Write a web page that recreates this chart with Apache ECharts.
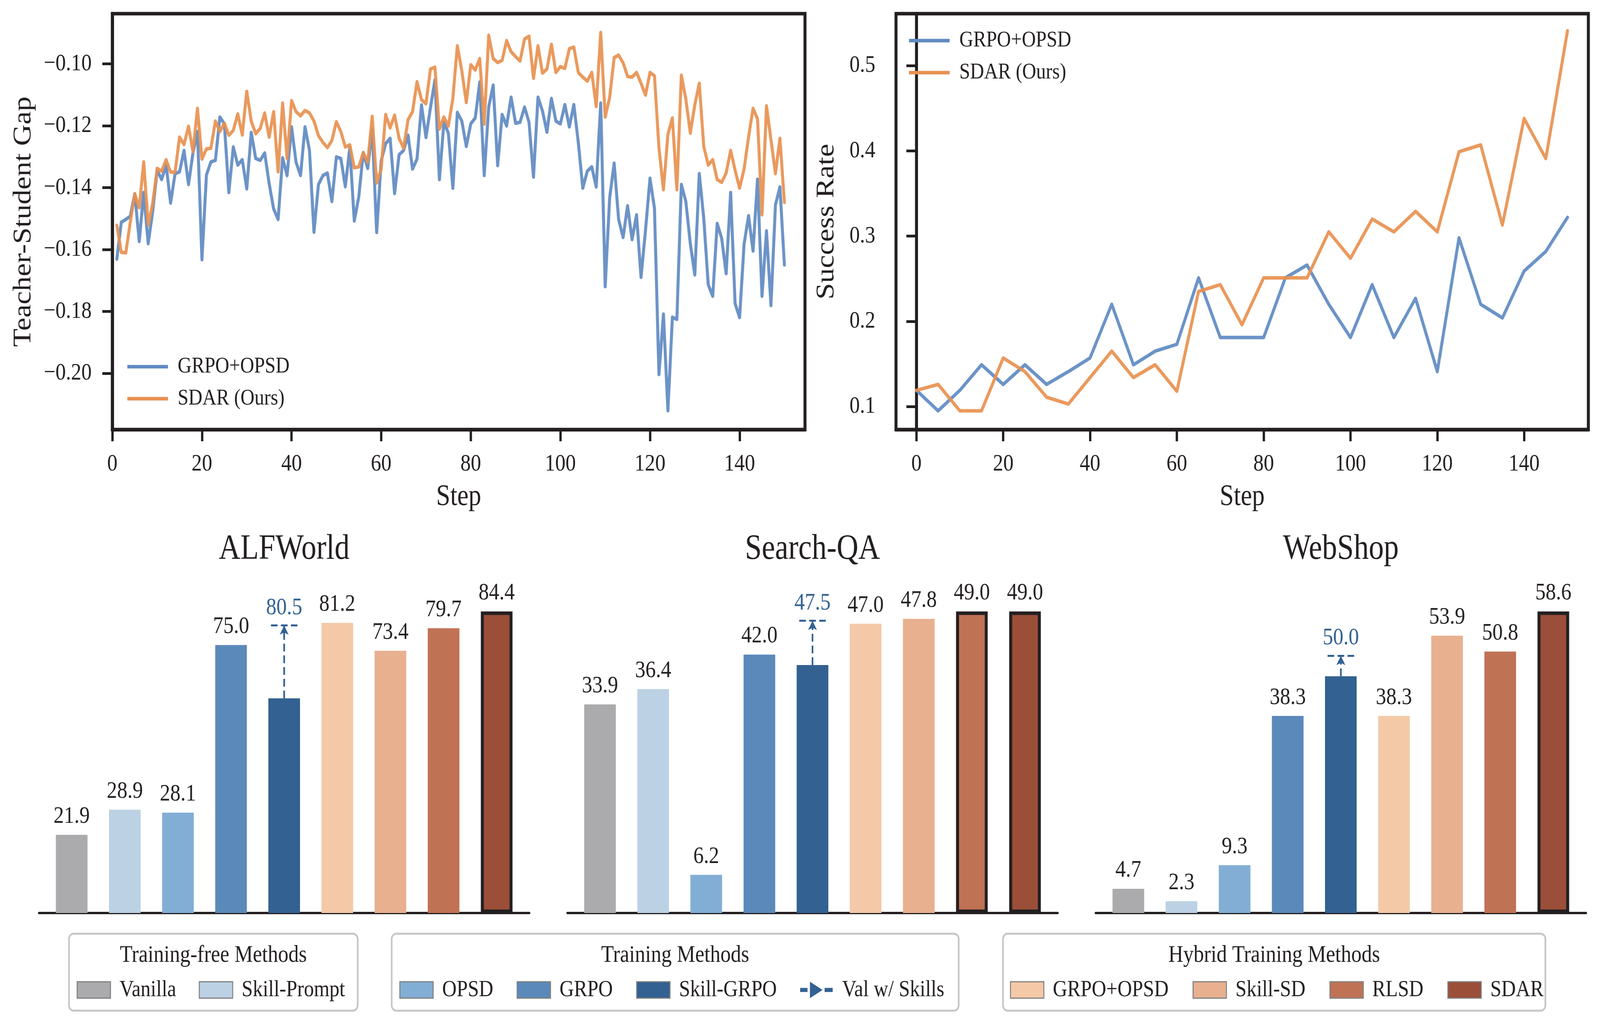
<!DOCTYPE html>
<html>
<head lang="en">
    <meta charset="UTF-8">
    <title>SDAR | Gap, success rate and benchmark results</title>
    <script src="https://cdn.jsdelivr.net/npm/echarts@6/dist/echarts.min.js"></script>
    <style>
        html, body { margin: 0; padding: 0; background: #fff; overflow: hidden; width: 100%; height: 100%; }
        #wrap { width: 4800px; height: 2635px; transform-origin: 0 0; }
        #chart { width: 4800px; height: 2635px; }
    </style>
</head>
<body>

<div id="wrap"><div id="chart"></div></div>

<script>

    // teacher-student gap, steps 1..150
    var gapBlue = [
        -0.1631,-0.1512,-0.1503,-0.1493,-0.1420,-0.1574,-0.1416,-0.1581,-0.1478,-0.1344,
        -0.1374,-0.1327,-0.1450,-0.1355,-0.1349,-0.1280,-0.1390,-0.1288,-0.1219,-0.1633,
        -0.1359,-0.1317,-0.1312,-0.1172,-0.1194,-0.1416,-0.1269,-0.1327,-0.1310,-0.1404,
        -0.1222,-0.1306,-0.1312,-0.1288,-0.1387,-0.1469,-0.1503,-0.1304,-0.1361,-0.1204,
        -0.1318,-0.1361,-0.1204,-0.1280,-0.1544,-0.1390,-0.1361,-0.1353,-0.1445,-0.1301,
        -0.1306,-0.1397,-0.1271,-0.1508,-0.1430,-0.1287,-0.1338,-0.1211,-0.1545,-0.1314,
        -0.1258,-0.1241,-0.1419,-0.1294,-0.1280,-0.1231,-0.1340,-0.1308,-0.1133,-0.1238,
        -0.1142,-0.1052,-0.1374,-0.1189,-0.1224,-0.1402,-0.1157,-0.1185,-0.1267,-0.1194,
        -0.1175,-0.1059,-0.1361,-0.1140,-0.1069,-0.1329,-0.1164,-0.1201,-0.1108,-0.1192,
        -0.1189,-0.1140,-0.1189,-0.1366,-0.1108,-0.1152,-0.1221,-0.1112,-0.1185,-0.1194,
        -0.1132,-0.1204,-0.1132,-0.1254,-0.1402,-0.1347,-0.1333,-0.1398,-0.1127,-0.1720,
        -0.1433,-0.1321,-0.1503,-0.1561,-0.1459,-0.1568,-0.1488,-0.1690,-0.1538,-0.1370,
        -0.1467,-0.2004,-0.1809,-0.2121,-0.1819,-0.1826,-0.1390,-0.1445,-0.1581,-0.1682,
        -0.1355,-0.1499,-0.1714,-0.1751,-0.1516,-0.1564,-0.1678,-0.1416,-0.1775,-0.1820,
        -0.1583,-0.1491,-0.1605,-0.1373,-0.1751,-0.1540,-0.1781,-0.1456,-0.1398,-0.1650
    ];
    var gapOrange = [
        -0.1522,-0.1609,-0.1611,-0.1512,-0.1420,-0.1465,-0.1317,-0.1521,-0.1452,-0.1338,
        -0.1347,-0.1310,-0.1350,-0.1350,-0.1237,-0.1261,-0.1202,-0.1284,-0.1144,-0.1308,
        -0.1275,-0.1273,-0.1185,-0.1219,-0.1192,-0.1231,-0.1215,-0.1162,-0.1230,-0.1089,
        -0.1185,-0.1226,-0.1209,-0.1159,-0.1237,-0.1155,-0.1349,-0.1127,-0.1306,-0.1119,
        -0.1155,-0.1168,-0.1151,-0.1159,-0.1185,-0.1232,-0.1254,-0.1271,-0.1248,-0.1187,
        -0.1219,-0.1269,-0.1262,-0.1336,-0.1333,-0.1287,-0.1318,-0.1170,-0.1385,-0.1340,
        -0.1164,-0.1207,-0.1166,-0.1241,-0.1273,-0.1181,-0.1155,-0.1058,-0.1116,-0.1129,
        -0.1017,-0.1011,-0.1211,-0.1172,-0.1201,-0.1112,-0.0942,-0.1023,-0.1125,-0.1003,
        -0.1020,-0.0983,-0.1195,-0.0908,-0.0983,-0.0996,-0.0989,-0.0925,-0.0961,-0.0977,
        -0.0991,-0.0920,-0.0911,-0.1047,-0.0942,-0.1030,-0.1017,-0.0937,-0.1028,-0.1009,
        -0.1015,-0.0951,-0.0946,-0.1028,-0.1043,-0.1056,-0.1028,-0.1138,-0.0899,-0.1172,
        -0.1109,-0.0980,-0.0972,-0.0997,-0.1041,-0.1043,-0.1028,-0.1063,-0.1101,-0.1028,
        -0.1039,-0.1271,-0.1407,-0.1228,-0.1175,-0.1407,-0.1037,-0.1114,-0.1224,-0.1133,
        -0.1063,-0.1267,-0.1327,-0.1310,-0.1374,-0.1383,-0.1353,-0.1280,-0.1344,-0.1402,
        -0.1340,-0.1237,-0.1144,-0.1178,-0.1488,-0.1136,-0.1245,-0.1355,-0.1241,-0.1448
    ];

    // success rate, every 5 steps from 0 to 150
    var rateBlue = [0.119,0.095,0.119,0.149,0.126,0.149,0.126,0.141,0.157,0.220,0.149,
        0.165,0.173,0.251,0.181,0.181,0.181,0.251,0.266,0.220,0.181,
        0.243,0.181,0.227,0.141,0.298,0.220,0.204,0.259,0.282,0.322];
    var rateOrange = [0.119,0.126,0.095,0.095,0.157,0.141,0.111,0.103,0.134,0.165,0.134,
        0.149,0.118,0.235,0.243,0.196,0.251,0.251,0.251,0.305,0.274,
        0.320,0.305,0.329,0.305,0.399,0.407,0.313,0.438,0.391,0.541];

    var gapTicks = [-0.20, -0.18, -0.16, -0.14, -0.12, -0.10];
    var rateTicks = [0.1, 0.2, 0.3, 0.4, 0.5];
    var stepTicks = [0, 20, 40, 60, 80, 100, 120, 140];

    // benchmark bars
    var methods = ['Vanilla', 'Skill-Prompt', 'OPSD', 'GRPO', 'Skill-GRPO', 'GRPO+OPSD', 'Skill-SD', 'RLSD', 'SDAR'];
    var benchmarks = ['ALFWorld', 'Search-QA', 'WebShop'];
    var alfworld = [21.9, 28.9, 28.1, 75.0, 60.1, 81.2, 73.4, 79.7, 84.4];
    var searchQA = [33.9, 36.4, 6.2, 42.0, 40.3, 47.0, 47.8, 49.0, 49.0];
    var webShop = [4.7, 2.3, 9.3, 38.3, 46.0, 38.3, 53.9, 50.8, 58.6];
    var valWithSkills = [80.5, 47.5, 50.0];

    var legendGroups = [
        ['Training-free Methods', ['Vanilla', 'Skill-Prompt']],
        ['Training Methods', ['OPSD', 'GRPO', 'Skill-GRPO', 'Val w/ Skills']],
        ['Hybrid Training Methods', ['GRPO+OPSD', 'Skill-SD', 'RLSD', 'SDAR']]
    ];

    var FONT = 'Liberation Serif';
    var INK = '#231f20';
    var BLUE = '#5f8ac2';
    var ORANGE = '#e8904f';
    var VAL = '#326192';
    var methodColors = ['#ababad', '#bcd1e3', '#82aed5', '#5b89b9', '#326192',
        '#f4c9a7', '#e8b08f', '#c07254', '#9b4f38'];
    var arrowIcon = 'path://M0,15H21V25H0Z M28,0L64,20L28,40Z M70,15H93V25H70Z';

    var panelLeft = [117, 1702, 3287];
    var panelWidth = 1471;
    var skillIdx = methods.indexOf('Skill-GRPO');

    // the figure is drawn on a 4800 x 2635 board and stretched onto the window
    var sx = window.innerWidth / 4800, sy = window.innerHeight / 2635;
    if (sx !== 1 || sy !== 1) {
        document.getElementById('wrap').style.transform = 'scale(' + sx + ',' + sy + ')';
    }

    function minus(v, digits) {
        return (v < 0 ? '\u2212' : '') + Math.abs(v).toFixed(digits);
    }

    function curveName(n) { return 'curve:' + n; }

    var grids = [
        {left: 337, top: 35, width: 2078, height: 1065, show: true, borderColor: INK, borderWidth: 9, outerBoundsMode: 'none'},
        {left: 2688, top: 35, width: 2077, height: 1065, show: true, borderColor: INK, borderWidth: 9, outerBoundsMode: 'none'}
    ];
    panelLeft.forEach(function(l){
        grids.push({left: l, top: 1450, width: panelWidth, height: 888, outerBoundsMode: 'none'});
    });

    function lineXAxis(idx, min, max){
        return {
            type: 'value', gridIndex: idx, min: min, max: max,
            axisLine: {show: true, lineStyle: {color: INK, width: 9}},
            axisTick: {show: true, inside: false, length: 30, customValues: stepTicks, lineStyle: {color: INK, width: 7}},
            axisLabel: {customValues: stepTicks, margin: 58, fontSize: 62, color: INK, fontFamily: FONT},
            splitLine: {show: false},
            name: 'Step', nameLocation: 'middle', nameGap: 135,
            nameTextStyle: {fontSize: 76, color: INK, fontFamily: FONT}
        };
    }
    function lineYAxis(idx, min, max, ticks, digits, name, gap){
        return {
            type: 'value', gridIndex: idx, min: min, max: max,
            axisLine: {show: true, lineStyle: {color: INK, width: 9}},
            axisTick: {show: true, inside: false, length: 30, customValues: ticks, lineStyle: {color: INK, width: 7}},
            axisLabel: {customValues: ticks, margin: 62, fontSize: 62, color: INK, fontFamily: FONT,
                formatter: function(v){ return minus(v, digits); }},
            splitLine: {show: false},
            name: name, nameLocation: 'middle', nameGap: gap, nameRotate: 90,
            nameTextStyle: {fontSize: 76, color: INK, fontFamily: FONT}
        };
    }

    var xAxes = [lineXAxis(0, 0, 154.6), lineXAxis(1, -4.7, 154.8)];
    var yAxes = [
        lineYAxis(0, -0.2182, -0.0838, gapTicks, 2, 'Teacher-Student Gap', 228),
        lineYAxis(1, 0.073, 0.561, rateTicks, 1, 'Success Rate', 170)
    ];

    var series = [];

    function pairs(values, stepOf){
        return values.map(function(v, i){ return [stepOf(i), v]; });
    }
    function curve(name, color, idx, data){
        return {
            name: curveName(name), type: 'line', xAxisIndex: idx, yAxisIndex: idx,
            data: data, showSymbol: false, symbol: 'none',
            itemStyle: {color: color},
            lineStyle: {color: color, width: 9, opacity: 0.92, cap: 'round', join: 'round'}
        };
    }
    series.push(curve('GRPO+OPSD', BLUE, 0, pairs(gapBlue, function(i){ return i + 1; })));
    series.push(curve('SDAR (Ours)', ORANGE, 0, pairs(gapOrange, function(i){ return i + 1; })));
    series.push(curve('GRPO+OPSD', BLUE, 1, pairs(rateBlue, function(i){ return i * 5; })));
    series.push(curve('SDAR (Ours)', ORANGE, 1, pairs(rateOrange, function(i){ return i * 5; })));

    var titles = [];
    [alfworld, searchQA, webShop].forEach(function(vals, p){
        var ax = p + 2;
        var top = Math.max.apply(null, vals);
        xAxes.push({
            type: 'value', gridIndex: ax, min: -0.615, max: 8.615,
            axisLine: {show: true, lineStyle: {color: INK, width: 6}},
            axisTick: {show: false}, axisLabel: {show: false}, splitLine: {show: false}
        });
        yAxes.push({type: 'value', gridIndex: ax, min: 0, max: top * 1.15, show: false});

        methods.forEach(function(m, i){
            var item = {value: [i, vals[i]]};
            if (vals[i] === top) {
                item.itemStyle = {borderColor: INK, borderWidth: 9};
            }
            series.push({
                name: m, type: 'bar', xAxisIndex: ax, yAxisIndex: ax,
                barWidth: 95, barGap: '-100%',
                itemStyle: {color: methodColors[i]},
                label: {
                    show: i !== skillIdx, position: 'top', distance: 16,
                    fontSize: 62, color: INK, fontFamily: FONT,
                    formatter: function(pm){ return pm.value[1].toFixed(1); }
                },
                data: [item]
            });
        });

        var v = valWithSkills[p];
        var s = vals[skillIdx];
        var valLabel = {show: true, position: 'insideMiddleTop', distance: 14, fontSize: 62,
            color: VAL, fontFamily: FONT, formatter: v.toFixed(1)};
        series.push({
            name: 'Val w/ Skills', type: 'line', xAxisIndex: ax, yAxisIndex: ax,
            data: [], itemStyle: {color: VAL}, lineStyle: {color: VAL},
            markLine: {
                silent: true, animation: false,
                symbol: ['none', 'none'],
                lineStyle: {color: VAL, width: 5, type: [20, 10]},
                label: {show: false},
                data: [
                    [{coord: [skillIdx, s], symbol: 'none'},
                     {coord: [skillIdx, v], symbol: 'arrow', symbolSize: [20, 24]}],
                    [{coord: [skillIdx - 0.25, v], symbol: 'none', label: valLabel},
                     {coord: [skillIdx + 0.25, v], symbol: 'none', label: valLabel}]
                ]
            }
        });

        titles.push({
            text: benchmarks[p], left: panelLeft[p] + panelWidth / 2, top: 1362,
            textAlign: 'center', padding: 0,
            textStyle: {fontSize: 90, fontWeight: 'normal', color: INK, fontFamily: FONT}
        });
    });

    // legend frames and titles
    var boxes = [[207, 866], [1175, 1701], [3009, 1627]];
    var legendLeft = [230, 1198, 3030];
    var legendGap = [68, 70, 72];
    var graphics = [];
    var legends = [];

    legendGroups.forEach(function(g, k){
        graphics.push({
            type: 'rect', z: 0,
            shape: {x: boxes[k][0], y: 2391, width: boxes[k][1], height: 197, r: 14},
            style: {fill: '#fff', stroke: '#c6c6c6', lineWidth: 5}
        });
        titles.push({
            text: g[0], left: boxes[k][0] + boxes[k][1] / 2, top: 2416,
            textAlign: 'center', padding: 0,
            textStyle: {fontSize: 62, fontWeight: 'normal', color: INK, fontFamily: FONT}
        });
        legends.push({
            left: legendLeft[k], top: 2505, orient: 'horizontal', padding: 0,
            itemWidth: 100, itemHeight: 42, itemGap: legendGap[k], icon: 'rect',
            selectedMode: false,
            itemStyle: {borderColor: '#808080', borderWidth: 3},
            textStyle: {fontSize: 60, lineHeight: 60, color: INK, fontFamily: FONT, padding: [0, 0, 0, 22]},
            data: g[1].map(function(n){
                if (n === 'Val w/ Skills') {
                    return {name: n, icon: arrowIcon, itemStyle: {color: VAL, borderWidth: 0}};
                }
                return {name: n};
            })
        });
    });

    [[382, 909], [2727, 74]].forEach(function(pos){
        legends.push({
            left: pos[0], top: pos[1], orient: 'vertical', padding: 0,
            itemWidth: 122, itemHeight: 9, itemGap: 22, icon: 'rect',
            selectedMode: false,
            textStyle: {fontSize: 58, lineHeight: 60, color: INK, fontFamily: FONT, padding: [0, 0, 0, 24]},
            formatter: function(n){ return n.replace('curve:', ''); },
            data: [curveName('GRPO+OPSD'), curveName('SDAR (Ours)')]
        });
    });

    var chart = echarts.init(document.getElementById('chart'), null, {renderer: 'canvas'});
    chart.setOption({
        backgroundColor: '#fff',
        animation: false,
        textStyle: {fontFamily: FONT},
        title: titles,
        grid: grids,
        xAxis: xAxes,
        yAxis: yAxes,
        legend: legends,
        graphic: graphics,
        series: series
    });

</script>
</body>
</html>
